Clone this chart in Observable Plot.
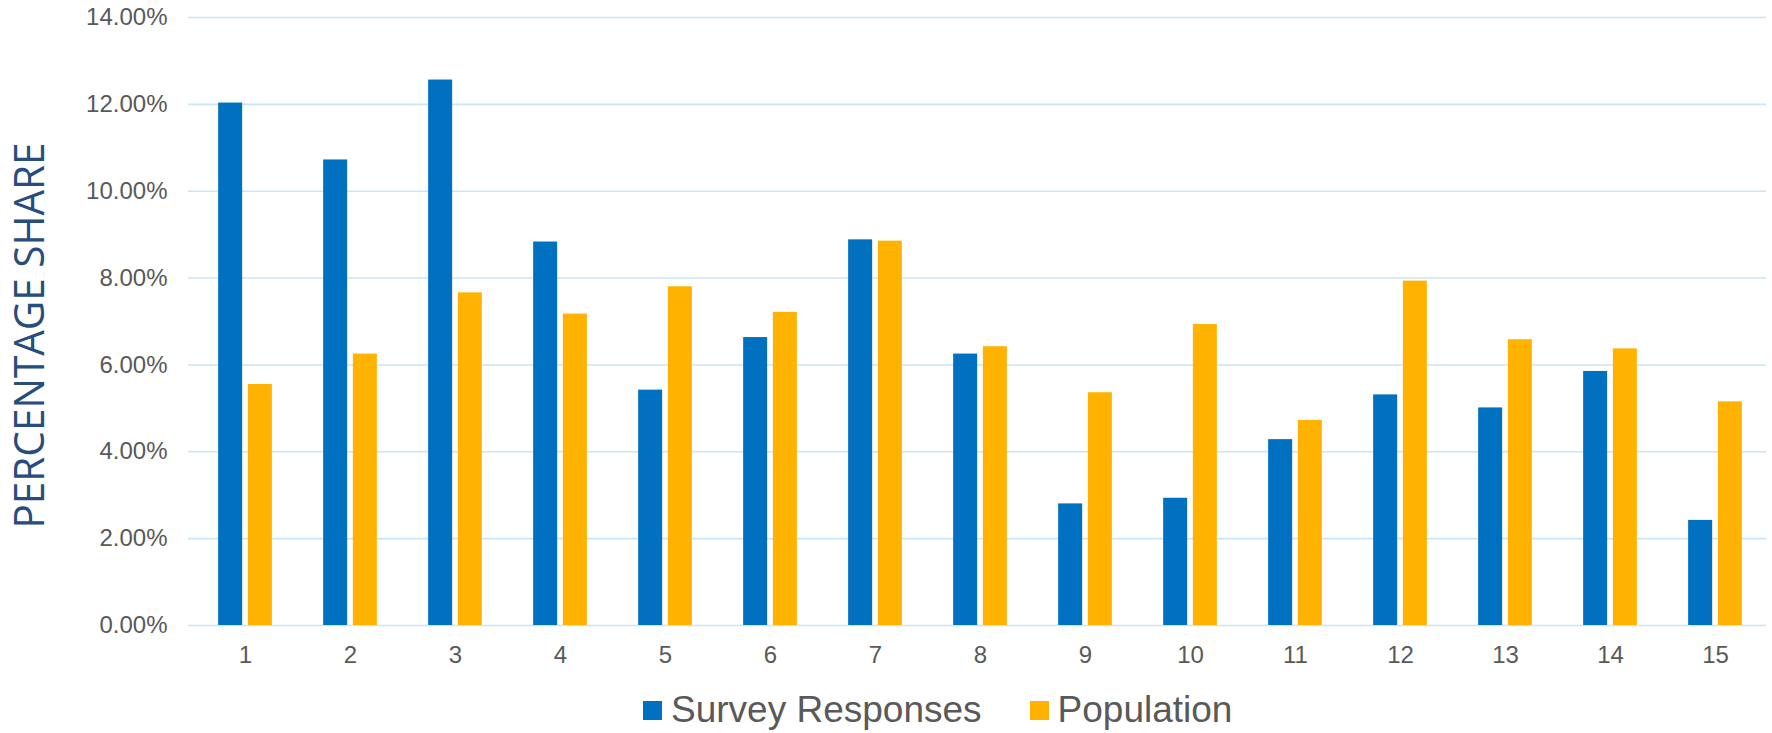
<!DOCTYPE html>
<html>
<head>
<meta charset="utf-8">
<script src="https://cdn.jsdelivr.net/npm/d3@7"></script>
<script src="https://cdn.jsdelivr.net/npm/@observablehq/plot@0.6"></script>
<style>
  html, body { margin: 0; padding: 0; background: #fff; }
  #wrap { position: relative; width: 1772px; height: 733px; overflow: hidden; }
  #legend { position: absolute; left: 643px; top: 690px; display: flex; align-items: center;
    font-family: "Liberation Sans", Arial, sans-serif; font-size: 37px; line-height: 40px; color: #595959; }
  .item { display: flex; align-items: center; }
  .sw { width: 19px; height: 19px; margin-right: 9px; }
</style>
</head>
<body>
<div id="wrap">
  <div id="chart"></div>
  <div id="legend"></div>
</div>
<script>
const categories = ["1","2","3","4","5","6","7","8","9","10","11","12","13","14","15"];
const surveyResponses = [12.03, 10.72, 12.56, 8.83, 5.42, 6.63, 8.88, 6.25, 2.80, 2.93, 4.28, 5.31, 5.01, 5.85, 2.42];
const population = [5.55, 6.25, 7.66, 7.17, 7.80, 7.21, 8.85, 6.42, 5.36, 6.93, 4.72, 7.93, 6.58, 6.37, 5.15];
const yTicks = [0, 2, 4, 6, 8, 10, 12, 14];
const seriesNames = ["Survey Responses", "Population"];
const seriesColors = ["#0070C0", "#FFB300"];
const yTitle = "PERCENTAGE SHARE";

const surveyData = categories.map((c, i) => ({cat: c, value: surveyResponses[i]}));
const popData = categories.map((c, i) => ({cat: c, value: population[i]}));

const chart = Plot.plot({
  width: 1772,
  height: 680,
  marginLeft: 188,
  marginRight: 0,
  marginTop: 17,
  marginBottom: 55,
  style: {fontFamily: "'Liberation Sans', Arial, sans-serif", fontSize: "24px", color: "#595959", background: "#fff"},
  x: {domain: categories, paddingInner: 0.7756, paddingOuter: 0.3878},
  y: {domain: [0, 14]},
  marks: [
    Plot.ruleY(yTicks, {stroke: "#c9e6f8", strokeWidth: 1.6, insetRight: 6}),
    Plot.barY(surveyData, {x: "cat", y: "value", fill: seriesColors[0], dx: -14.85}),
    Plot.barY(popData, {x: "cat", y: "value", fill: seriesColors[1], dx: 14.85}),
    Plot.axisY({ticks: yTicks, tickFormat: d => d.toFixed(2) + "%", tickSize: 0, tickPadding: 21, label: null, fill: "#595959"}),
    Plot.axisX({tickSize: 0, tickPadding: 20, label: null, fill: "#595959"}),
    Plot.text([yTitle], {frameAnchor: "left", rotate: -90, textAnchor: "start", dx: -158, dy: 207, fontSize: 42,
      fontFamily: "'Open Sans', 'Noto Sans', sans-serif", fill: "#264d7e"})
  ]
});
document.getElementById("chart").appendChild(chart);

// compress the axis title to the reference's condensed look
chart.querySelectorAll("text").forEach(t => {
  if (t.textContent === yTitle) {
    t.setAttribute("textLength", "386");
    t.setAttribute("lengthAdjust", "spacingAndGlyphs");
  }
});

const legend = document.getElementById("legend");
seriesNames.forEach((name, i) => {
  const item = document.createElement("div");
  item.className = "item";
  if (i > 0) item.style.marginLeft = "48px";
  const sw = document.createElement("div");
  sw.className = "sw";
  sw.style.background = seriesColors[i];
  const label = document.createElement("span");
  label.textContent = name;
  item.appendChild(sw);
  item.appendChild(label);
  legend.appendChild(item);
});
</script>
</body>
</html>
